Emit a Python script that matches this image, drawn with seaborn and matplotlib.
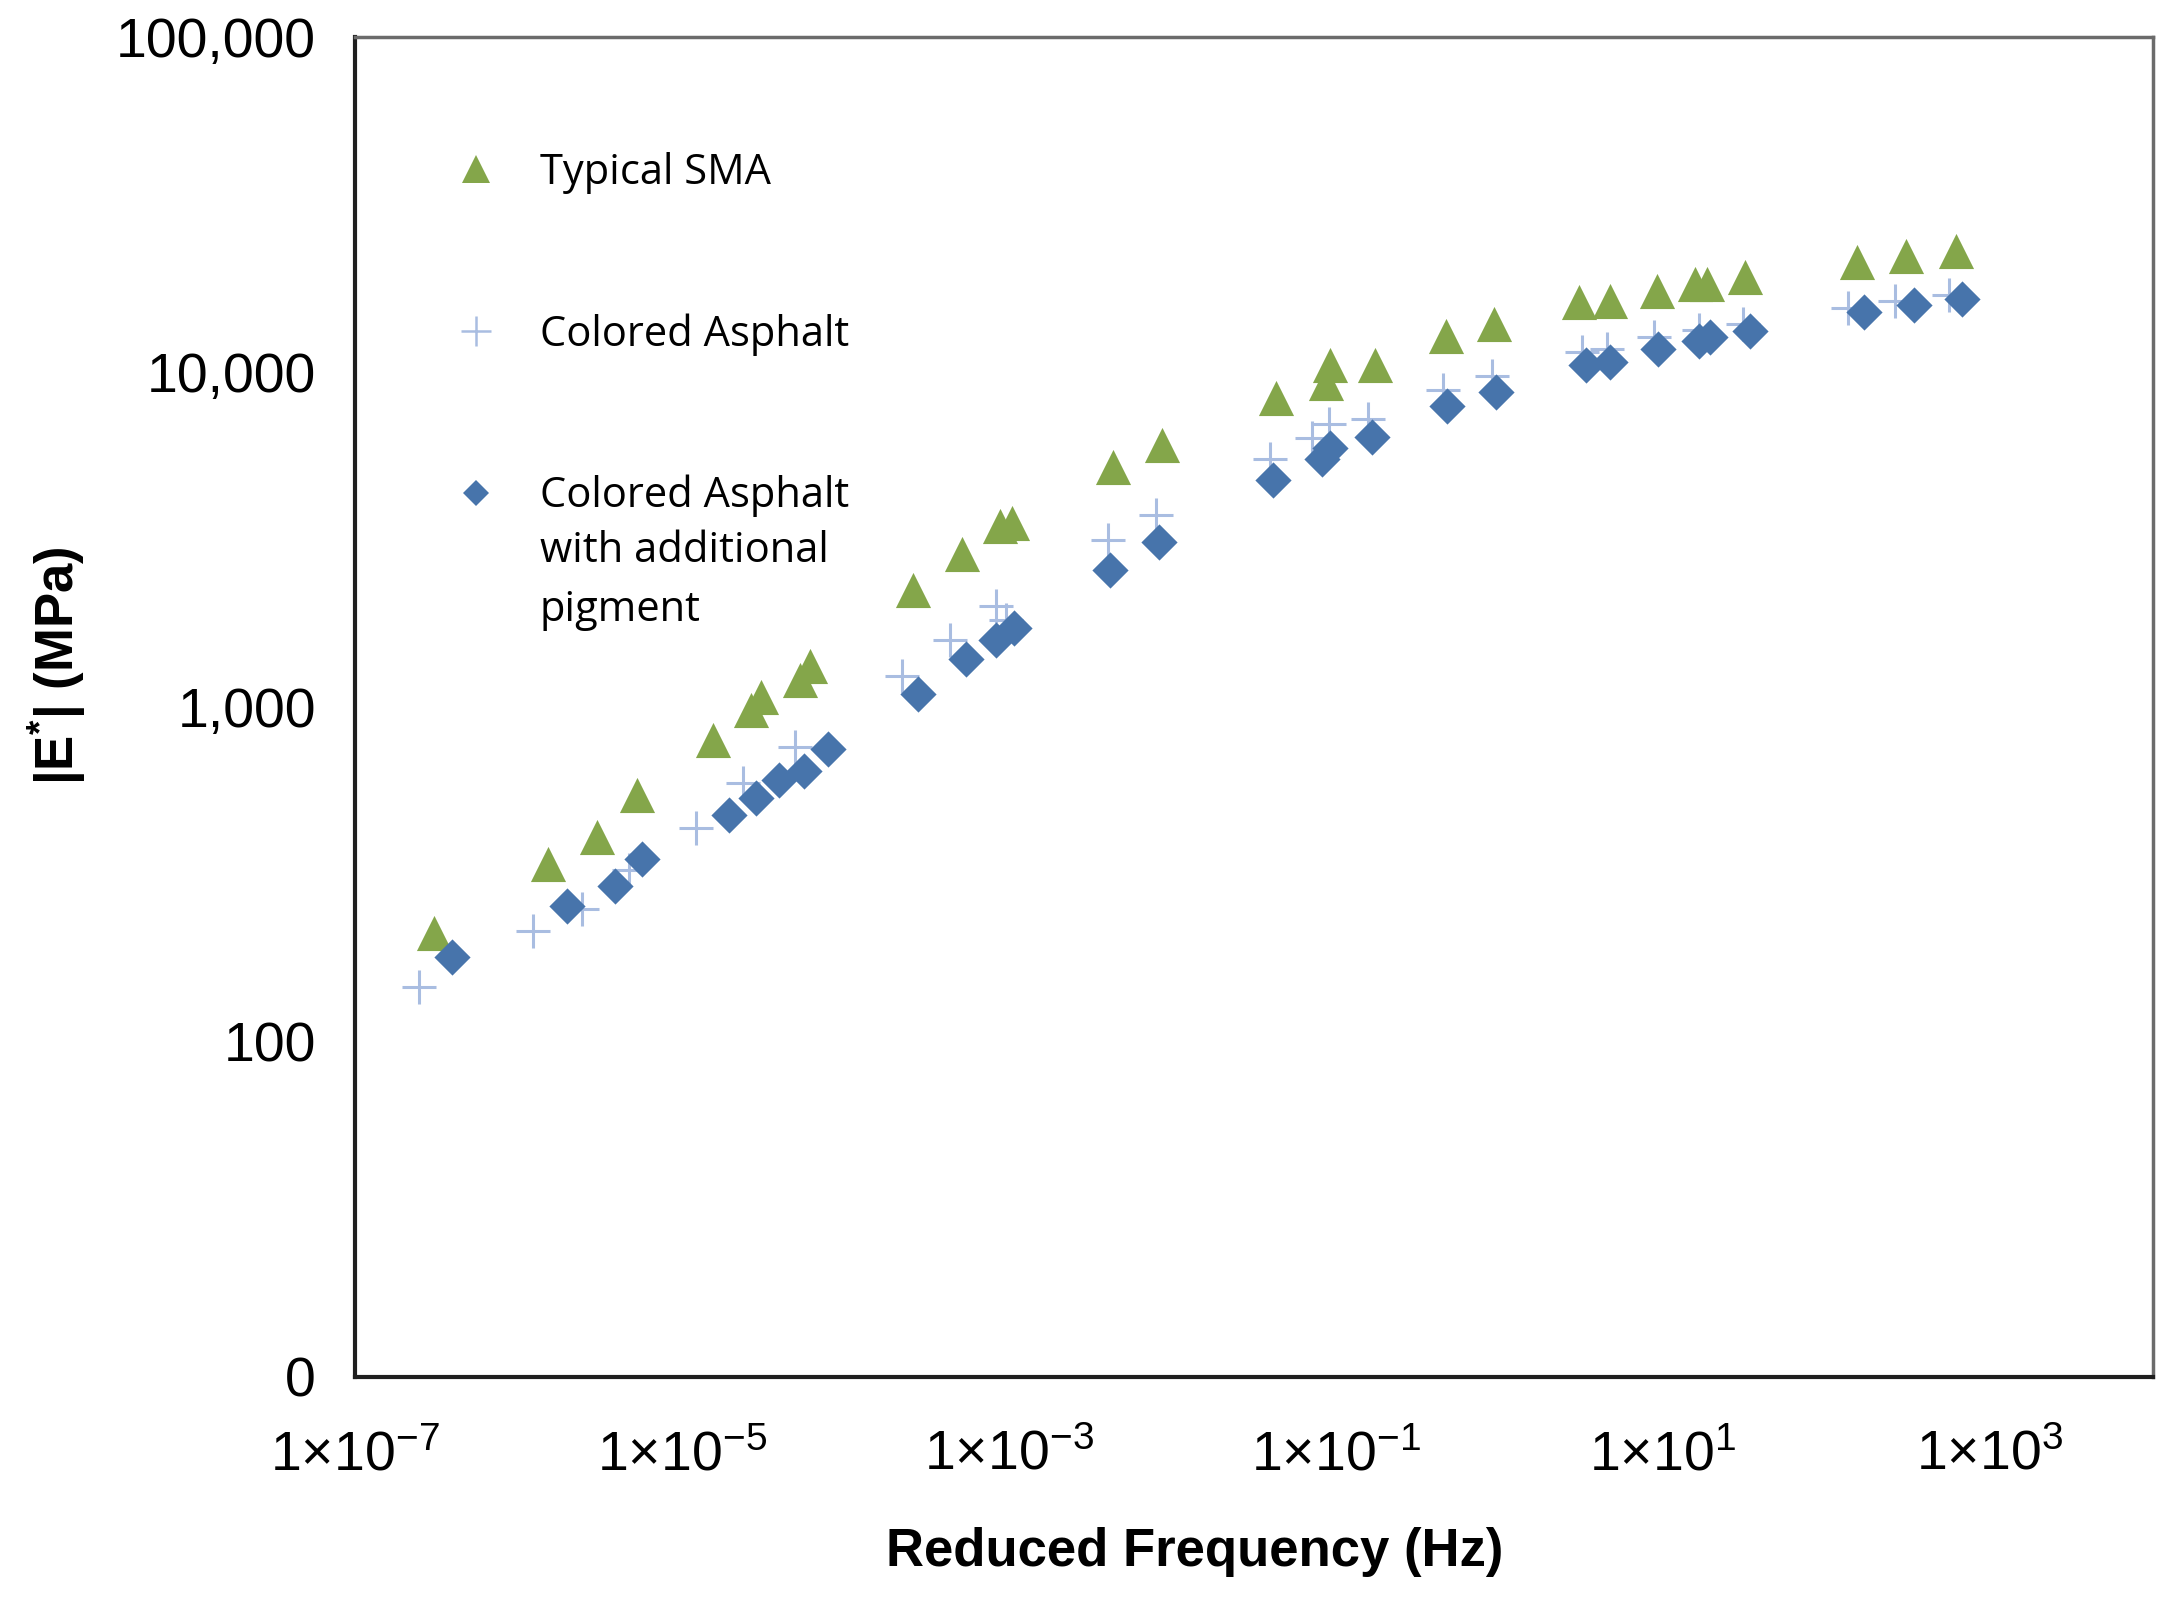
import numpy as np
import pandas as pd
import matplotlib
matplotlib.use('Agg')
import matplotlib.pyplot as plt
import seaborn as sns
from matplotlib.lines import Line2D
from matplotlib.ticker import FixedLocator, NullLocator

# (reduced frequency in Hz, |E*| in MPa)
freq_sma = [3.05e-7, 1.52e-6, 3.03e-6, 5.34e-6, 1.54e-5, 2.66e-5, 3.05e-5, 5.29e-5, 6.07e-5,
            2.59e-4, 5.14e-4, 8.89e-4, 1.04e-3, 4.35e-3, 8.63e-3, 0.0431, 0.0871, 0.0925,
            0.173, 0.470, 0.933, 3.09, 4.75, 9.25, 15.7, 18.7, 31.8, 155, 309, 625]
e_sma = [212, 339, 410, 546, 799, 977, 1074, 1205, 1326,
         2241, 2871, 3473, 3541, 5188, 6044, 8362, 9288, 10515,
         10515, 12846, 13868, 16158, 16313, 17440, 18289, 18289, 19183, 21299, 22130, 22993]

freq_ca = [2.46e-7, 1.23e-6, 2.44e-6, 4.75e-6, 1.22e-5, 2.37e-5, 4.89e-5,
           2.21e-4, 4.39e-4, 8.38e-4, 9.62e-4, 4.02e-3, 7.98e-3, 0.0398, 0.0717,
           0.0906, 0.157, 0.452, 0.898, 3.21, 4.57, 8.89, 16.6, 31.2, 136, 264, 567]
e_ca = [146, 214, 249, 326, 434, 594, 762,
        1240, 1589, 1998, 1816, 3159, 3751, 5495, 6341,
        6974, 7246, 8855, 9741, 11459, 11680, 12723, 13349, 13868, 15549, 16315, 16943]

freq_cap = [3.94e-7, 1.97e-6, 3.90e-6, 5.67e-6, 1.95e-5, 2.83e-5, 3.94e-5, 5.61e-5, 7.83e-5,
            2.80e-4, 5.45e-4, 8.38e-4, 1.08e-3, 4.18e-3, 8.30e-3, 0.0414, 0.0822, 0.0925,
            0.166, 0.480, 0.952, 3.40, 4.75, 9.42, 16.6, 19.5, 34.4, 171, 347, 676]
e_cap = [179, 254, 293, 352, 477, 535, 606, 642, 747,
         1095, 1390, 1589, 1716, 2562, 3099, 4760, 5507, 5933,
         6400, 7895, 8685, 10515, 10716, 11676, 12364, 12723, 13214, 15110, 15849, 16465]

series_names = ['Typical SMA', 'Colored Asphalt', 'Colored Asphalt with additional pigment']
series_colors = ['#84a64a', '#a9bde1', '#4774ab']

x_ticks = [1e-7, 1e-5, 1e-3, 1e-1, 1e1, 1e3]
x_tick_labels = ['1×10$^{-7}$', '1×10$^{-5}$', '1×10$^{-3}$', '1×10$^{-1}$', '1×10$^{1}$', '1×10$^{3}$']
y_ticks = [10, 100, 1000, 10000, 100000]
y_tick_labels = ['0', '100', '1,000', '10,000', '100,000']

df = pd.concat([
    pd.DataFrame({'freq': freq_sma, 'E': e_sma, 'mix': series_names[0]}),
    pd.DataFrame({'freq': freq_ca, 'E': e_ca, 'mix': series_names[1]}),
    pd.DataFrame({'freq': freq_cap, 'E': e_cap, 'mix': series_names[2]}),
], ignore_index=True)

sns.set_style('white')
plt.rcParams['font.family'] = ['Liberation Sans', 'DejaVu Sans']
plt.rcParams['mathtext.default'] = 'regular'
for key in ['text.color', 'axes.labelcolor', 'xtick.color', 'ytick.color']:
    plt.rcParams[key] = 'black'

fig = plt.figure(figsize=(21.82, 16), dpi=100)
ax = fig.add_axes([0.1627, 0.1394, 0.8240, 0.8375])

sns.scatterplot(data=df[df['mix'] == series_names[0]], x='freq', y='E', marker='^',
                s=640, color=series_colors[0], linewidth=0, legend=False, ax=ax, zorder=3)
sns.scatterplot(data=df[df['mix'] == series_names[1]], x='freq', y='E', marker='+',
                s=620, color=series_colors[1], linewidth=2.2, legend=False, ax=ax, zorder=4)
sns.scatterplot(data=df[df['mix'] == series_names[2]], x='freq', y='E', marker='D',
                s=340, color=series_colors[2], linewidth=0, legend=False, ax=ax, zorder=5)

ax.set_xscale('log')
ax.set_yscale('log')
ax.set_xlim(1e-7, 1e4)
ax.set_ylim(10, 1e5)

ax.xaxis.set_major_locator(FixedLocator(x_ticks))
ax.xaxis.set_minor_locator(NullLocator())
ax.yaxis.set_major_locator(FixedLocator(y_ticks))
ax.yaxis.set_minor_locator(NullLocator())
ax.set_xticklabels(x_tick_labels, fontsize=40)
ax.set_yticklabels(y_tick_labels, fontsize=40)
ax.tick_params(axis='x', direction='in', length=12, width=1.5, pad=38, colors='#222222', labelcolor='black')
ax.tick_params(axis='y', direction='in', length=12, width=1.5, pad=28, colors='#222222', labelcolor='black')

for side in ['left', 'bottom']:
    ax.spines[side].set_color('#1f1f1f')
    ax.spines[side].set_linewidth(3)
for side in ['top', 'right']:
    ax.spines[side].set_color('#6b6b6b')
    ax.spines[side].set_linewidth(2.5)

ax.set_xlabel('Reduced Frequency (Hz)', fontsize=38, fontweight='bold', color='black')
ax.xaxis.label.set_va('center')
ax.xaxis.set_label_coords(0.467, -0.1306)
ax.set_ylabel('|E$^{*}$| (MPa)', fontsize=38, fontweight='bold', color='black')
ax.yaxis.label.set_va('center')
ax.yaxis.set_label_coords(-0.1657, 0.531)

legend_font = {'family': ['Open Sans', 'DejaVu Sans'], 'size': 30}
handles = [
    Line2D([], [], linestyle='none', marker='^', markersize=20, color=series_colors[0], markeredgewidth=0),
    Line2D([], [], linestyle='none', marker='+', markersize=22, color=series_colors[1], markeredgewidth=1.8),
    Line2D([], [], linestyle='none', marker='D', markersize=13, color=series_colors[2], markeredgewidth=0),
]
leg = ax.legend(handles, ['Typical SMA', 'Colored Asphalt', 'Colored Asphalt'],
                loc='upper left', bbox_to_anchor=(0.2093, 0.905), bbox_transform=fig.transFigure,
                frameon=False, borderpad=0, borderaxespad=0, handlelength=0.93,
                handletextpad=1.06, labelspacing=2.86, prop=legend_font)
for t in leg.get_texts():
    t.set_color('black')

# rest of the third legend label, hung under its first line
fig.canvas.draw()
ax.annotate('with additional\npigment', xy=(0, 0), xycoords=leg.get_texts()[2],
            xytext=(0, -9), textcoords='offset points', ha='left', va='top',
            fontsize=30, family=legend_font['family'],
            linespacing=1.55, color='black', zorder=10)

fig.savefig('out.png', dpi=100, facecolor='white')
